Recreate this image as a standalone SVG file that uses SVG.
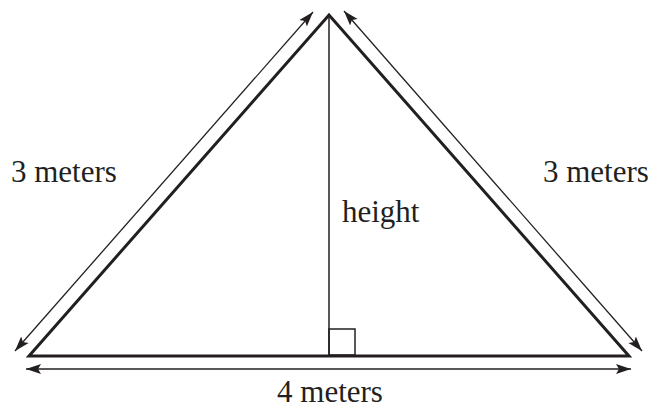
<svg xmlns="http://www.w3.org/2000/svg" width="657" height="410" viewBox="0 0 657 410">
<defs>
<style>
.tri{fill:none;stroke:#231f20;stroke-width:3;stroke-linejoin:miter}
.thin{fill:none;stroke:#231f20;stroke-width:1.5}
.dim{fill:none;stroke:#231f20;stroke-width:1.3}
.lbl{font-size:31px;fill:#231f20}
</style>
<marker id="ah" markerUnits="userSpaceOnUse" markerWidth="16" markerHeight="12" viewBox="0 0 16 12" refX="15" refY="6" orient="auto-start-reverse">
<path d="M0,1 L15,6 L0,11 L3,6 Z" fill="#231f20"/>
</marker>
</defs>
<g id="triangle">
<polygon class="tri" points="29,356 329,15 629,356"/>
<line class="thin" x1="329" y1="15" x2="329" y2="356"/>
<rect class="thin" x="329" y="329" width="26" height="26"/>
</g>
<g id="connectors">
<line class="dim" x1="15" y1="351" x2="313" y2="12" marker-start="url(#ah)" marker-end="url(#ah)"/>
<line class="dim" x1="344" y1="11" x2="642" y2="351" marker-start="url(#ah)" marker-end="url(#ah)"/>
<line class="dim" x1="26" y1="369" x2="631" y2="369" marker-start="url(#ah)" marker-end="url(#ah)"/>
</g>
<g id="labels" font-family="'Liberation Serif', 'Times New Roman', 'DejaVu Serif', serif">
<text class="lbl" x="11" y="182">3 meters</text>
<text class="lbl" x="543" y="182">3 meters</text>
<text class="lbl" x="342" y="222">height</text>
<text class="lbl" x="330" y="402" text-anchor="middle">4 meters</text>
</g>
</svg>
